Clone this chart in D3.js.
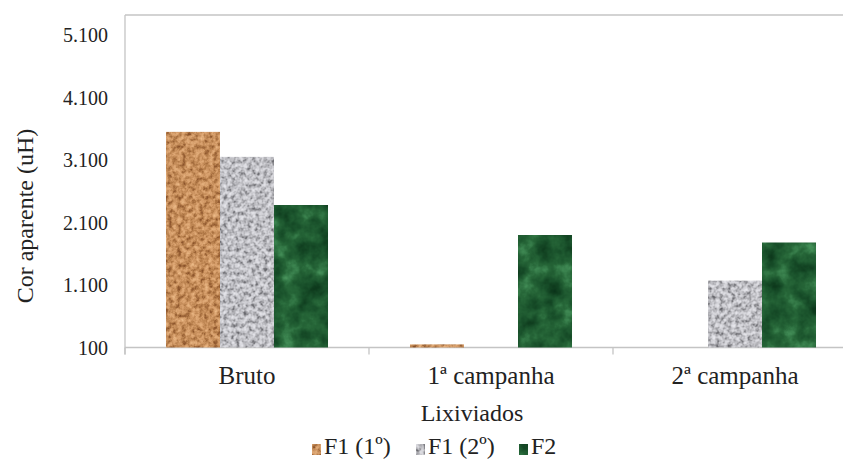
<!DOCTYPE html>
<html>
<head>
<meta charset="utf-8">
<script src="https://cdn.jsdelivr.net/npm/d3@7"></script>
<style>
  html, body { margin: 0; padding: 0; background: #fff; }
  svg { display: block; }
</style>
</head>
<body>
<svg id="chart" width="843" height="459"></svg>
<script>
// Apparent colour (uH) of leachates by sampling campaign
const categories = ["Bruto", "1ª campanha", "2ª campanha"];
const seriesNames = ["F1 (1º)", "F1 (2º)", "F2"];
const f1First  = [3550, 150, null];
const f1Second = [3150, null, 1170];
const f2Values = [2380, 1900, 1780];
const yTicks = [100, 1100, 2100, 3100, 4100, 5100];
const xTitle = "Lixiviados";
const yTitle = "Cor aparente (uH)";

const seriesValues = [f1First, f1Second, f2Values];
const textureIds = ["tex-cork", "tex-granite", "tex-marble"];
const textColor = "#222";

const svg = d3.select("#chart");
const margin = { left: 125, top: 15, right: 857, bottom: 347.5 };

// ---- scales ----
const x0 = d3.scaleBand().domain(categories).range([margin.left, margin.right]);
const x1 = d3.scaleBand().domain(seriesNames).range([0, x0.bandwidth() * 0.664]);
const groupOffset = (x0.bandwidth() - x1.range()[1]) / 2;
const y = d3.scaleLinear().domain([100, 5100]).range([margin.bottom, 35]);

const locale = d3.formatLocale({ decimal: ",", thousands: ".", grouping: [3], currency: ["R$", ""] });
const fmt = locale.format(",");

// serif label helper
function label(x, yy, str, size, anchor) {
  return svg.append("text")
    .attr("x", x).attr("y", yy)
    .attr("font-family", "Liberation Serif")
    .style("font-size", size + "px")
    .attr("text-anchor", anchor || "start")
    .attr("fill", textColor)
    .text(str);
}

// ---- text: tick labels, categories, titles, legend ----
yTicks.forEach(t => label(108, y(t), fmt(t), 20, "end").attr("dy", "0.35em"));
categories.forEach(c => label(x0(c) + x0.bandwidth() / 2, 384, c, 25, "middle"));
label(472, 421, xTitle, 24, "middle");
label(0, 0, yTitle, 24, "middle").attr("transform", "translate(33,216) rotate(-90)");
const legendX = [312, 416, 519];
seriesNames.forEach((s, i) => label(legendX[i] + 12, 454, s, 24));

// ---- textures built from SVG noise filters ----
const defs = svg.append("defs");
function texture(id, freq, octaves, seed, r, g, b) {
  const f = defs.append("filter").attr("id", id)
    .attr("x", 0).attr("y", 0).attr("width", 1).attr("height", 1)
    .attr("color-interpolation-filters", "sRGB");
  f.append("feTurbulence").attr("type", "fractalNoise").attr("baseFrequency", freq)
    .attr("numOctaves", octaves).attr("seed", seed).attr("result", "noise");
  f.append("feColorMatrix").attr("type", "matrix")
    .attr("values", "1 0 0 0 0  1 0 0 0 0  1 0 0 0 0  0 0 0 0 1");
  const ct = f.append("feComponentTransfer").attr("result", "col");
  ct.append("feFuncR").attr("type", "table").attr("tableValues", r.join(" "));
  ct.append("feFuncG").attr("type", "table").attr("tableValues", g.join(" "));
  ct.append("feFuncB").attr("type", "table").attr("tableValues", b.join(" "));
  f.append("feComposite").attr("in", "col").attr("in2", "SourceGraphic").attr("operator", "in");
}
// cork: tan with brown flecks
texture("tex-cork", 0.22, 3, 4,
  [0.48, 0.56, 0.72, 0.84, 0.90, 0.95],
  [0.27, 0.34, 0.50, 0.62, 0.70, 0.77],
  [0.13, 0.18, 0.30, 0.42, 0.50, 0.57]);
// granite: light grey with dark speckles
texture("tex-granite", 0.25, 3, 9,
  [0.32, 0.46, 0.68, 0.82, 0.89, 0.93],
  [0.32, 0.46, 0.68, 0.82, 0.89, 0.93],
  [0.34, 0.48, 0.70, 0.84, 0.91, 0.95]);
// green marble
texture("tex-marble", 0.05, 4, 2,
  [0.03, 0.06, 0.10, 0.15, 0.25, 0.38],
  [0.18, 0.24, 0.32, 0.40, 0.54, 0.66],
  [0.09, 0.12, 0.17, 0.22, 0.33, 0.42]);

const axisColor = "#c4c4c4";
function rule(x1v, y1v, x2v, y2v) {
  svg.append("line")
    .attr("x1", x1v).attr("y1", y1v).attr("x2", x2v).attr("y2", y2v)
    .attr("stroke", axisColor).attr("stroke-width", 1.3);
}

// frame: top line, value axis line, category axis line and its ticks
rule(margin.left, margin.top, margin.right, margin.top);
rule(margin.left, margin.top, margin.left, margin.bottom + 7);
rule(margin.left, margin.bottom, margin.right, margin.bottom);
categories.map(c => x0(c)).concat([margin.right])
  .forEach(bx => rule(bx, margin.bottom, bx, margin.bottom + 7));

// ---- bars ----
const bars = [];
categories.forEach((c, ci) => {
  seriesNames.forEach((s, si) => {
    const v = seriesValues[si][ci];
    if (v != null && v > 100) bars.push({ c, s, si, v });
  });
});
svg.append("g").selectAll("rect").data(bars).join("rect")
  .attr("x", d => x0(d.c) + groupOffset + x1(d.s))
  .attr("width", x1.bandwidth())
  .attr("y", d => y(d.v))
  .attr("height", d => y(100) - y(d.v))
  .attr("fill", "#000")
  .attr("filter", d => `url(#${textureIds[d.si]})`);

// ---- legend swatches ----
svg.append("g").selectAll("rect").data(seriesNames).join("rect")
  .attr("x", (d, i) => legendX[i]).attr("y", 444)
  .attr("width", 9).attr("height", 11)
  .attr("fill", "#000")
  .attr("filter", (d, i) => `url(#${textureIds[i]})`);
</script>
</body>
</html>
